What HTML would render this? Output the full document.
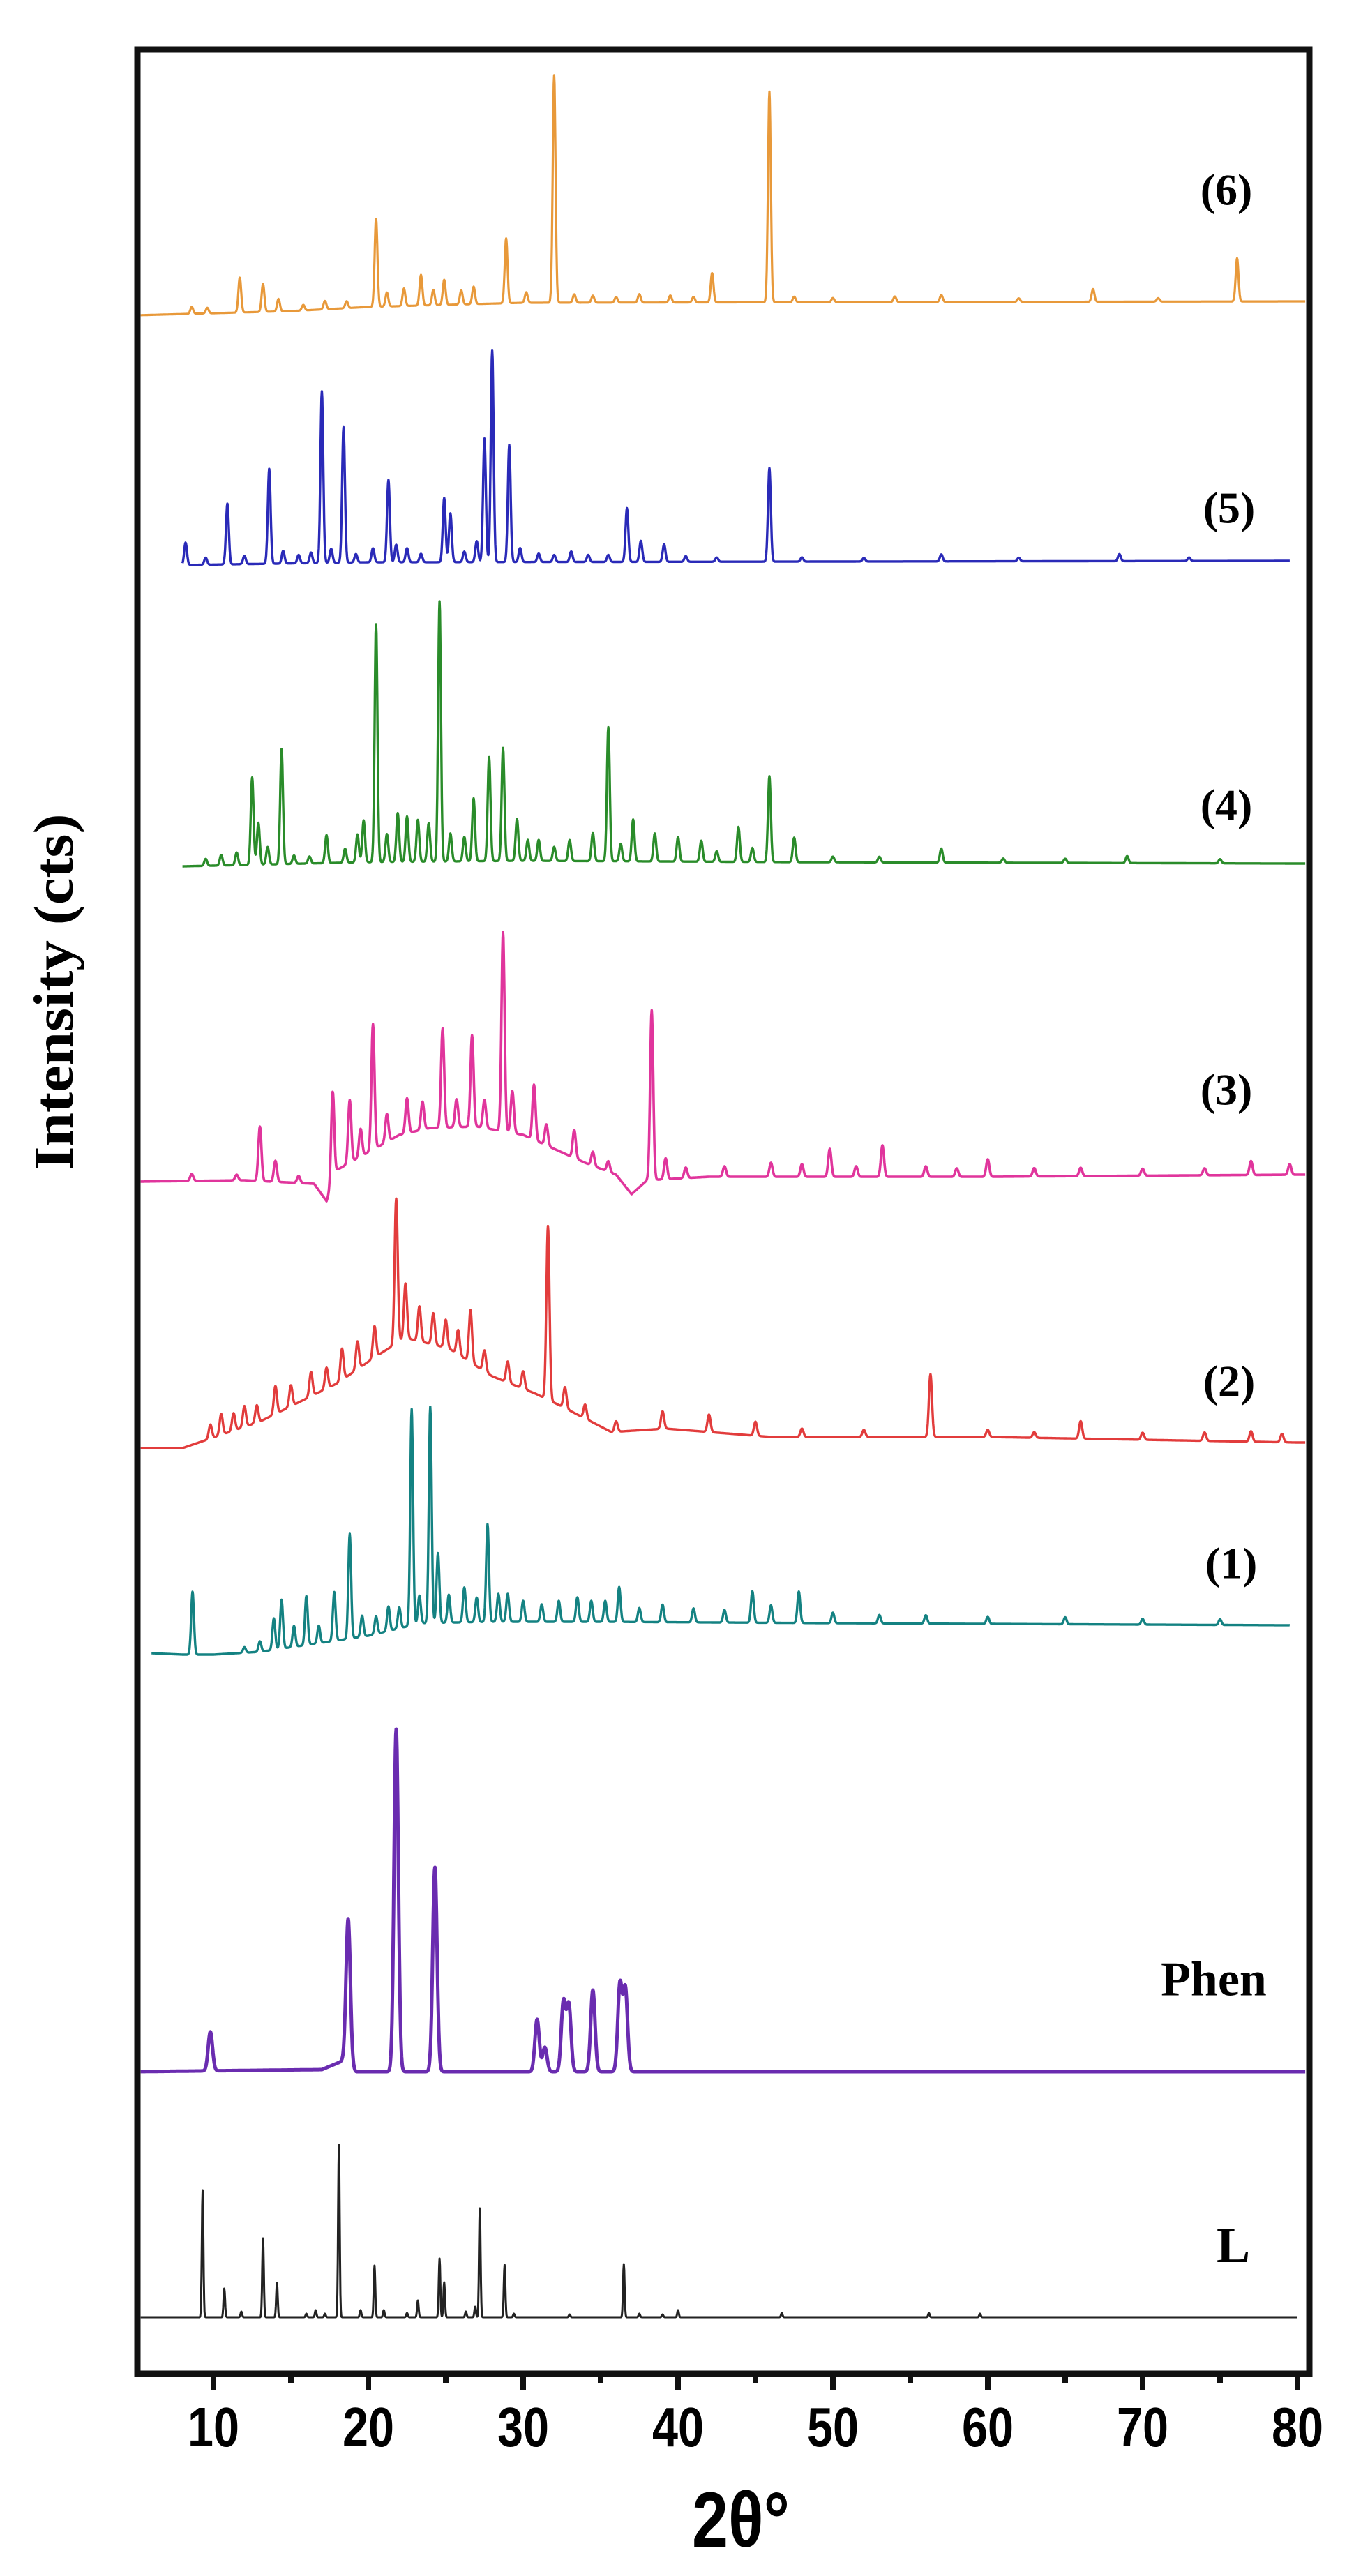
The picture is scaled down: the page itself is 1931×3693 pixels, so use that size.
<!DOCTYPE html>
<html><head><meta charset="utf-8"><style>
html,body{margin:0;padding:0;background:#fff;}
svg{display:block;}
</style></head><body>
<svg id="chart" xmlns="http://www.w3.org/2000/svg" width="1931" height="3693" viewBox="0 0 1931 3693">
<rect x="0" y="0" width="1931" height="3693" fill="#fff"/>
<g id="series"></g>
<g id="axes"></g>
<text transform="translate(104,1422) rotate(-90)" text-anchor="middle" font-family="Liberation Serif, serif" font-weight="bold" font-size="80" textLength="511" lengthAdjust="spacingAndGlyphs">Intensity (cts)</text>
<text x="1062" y="3651" text-anchor="middle" font-family="Liberation Sans, sans-serif" font-weight="bold" font-size="112" textLength="140" lengthAdjust="spacingAndGlyphs">2θ°</text>
</svg>
<script>
// ---------- data ----------
const xTicks = [10,20,30,40,50,60,70,80];
const xTickLabels = ["10","20","30","40","50","60","70","80"];
const seriesNames = ["(6)","(5)","(4)","(3)","(2)","(1)","Phen","L"];

const base6 = [[5,-18],[15,-12],[20,-6],[30,0],[80,2]];
const peaks6 = [[8.6,10],[9.6,8],[11.7,50],[13.2,40],[14.2,18],[15.8,8],[17.2,12],[18.6,10],[20.5,126],[21.2,20],[22.3,25],[23.4,44],[24.2,22],[24.9,36],[26.0,20],[26.8,25],[28.9,93],[30.2,15],[32.0,326],[33.3,12],[34.5,10],[36.0,8],[37.5,12],[39.5,10],[41.0,8],[42.2,42],[45.9,302],[47.5,8],[50.0,6],[54.0,8],[57.0,10],[62.0,5],[66.8,18],[71.0,5],[76.1,62]];

const base5 = [[8,-4],[20,0],[80,2]];
const peaks5 = [[8.2,32],[9.5,10],[10.9,87],[12.0,12],[13.6,136],[14.5,18],[15.5,12],[16.3,15],[17.0,246],[17.6,20],[18.4,194],[19.2,12],[20.3,20],[21.3,118],[21.8,25],[22.5,20],[23.4,12],[24.9,92],[25.3,70],[26.2,15],[27.0,30],[27.5,177],[28.0,303],[29.1,168],[29.8,20],[31.0,12],[32.0,10],[33.1,15],[34.2,10],[35.5,10],[36.7,77],[37.6,30],[39.1,25],[40.5,8],[42.5,6],[45.9,134],[48,6],[52,5],[57,10],[62,5],[68.5,10],[73,5]];

const base4 = [[8,-4],[20,2],[30,4],[48,2],[80,0]];
const peaks4 = [[9.5,10],[10.5,15],[11.5,18],[12.5,125],[12.9,60],[13.5,25],[14.4,165],[15.2,12],[16.2,10],[17.3,40],[18.5,20],[19.3,40],[19.7,60],[20.5,341],[21.2,40],[21.9,70],[22.5,65],[23.2,60],[23.9,55],[24.6,373],[25.3,40],[26.2,35],[26.8,90],[27.8,149],[28.7,162],[29.6,60],[30.3,30],[31.0,30],[32.0,20],[33.0,30],[34.5,40],[35.5,192],[36.3,25],[37.1,60],[38.5,40],[40.0,35],[41.5,30],[42.5,15],[43.9,50],[44.8,20],[45.9,123],[47.5,35],[50,8],[53,8],[57,20],[61,6],[65,6],[69,10],[75,6]];

const base3 = [[5,-2],[12,0],[16.5,-5],[17.3,-30],[18,15],[20,40],[22,65],[24,75],[27,77],[30,65],[32,45],[34,25],[36,8],[37,-20],[38,0],[42,5],[60,5],[80,8]];
const peaks3 = [[8.6,10],[11.5,8],[13.0,78],[14.0,30],[15.5,10],[17.7,131],[18.8,90],[19.5,40],[20.3,180],[21.2,40],[22.5,50],[23.5,40],[24.8,142],[25.7,40],[26.7,131],[27.5,40],[28.7,286],[29.3,60],[30.7,79],[31.5,30],[33.3,40],[34.5,20],[35.5,15],[38.3,243],[39.2,30],[40.5,15],[43,15],[46,20],[48,18],[49.8,40],[51.5,15],[53.2,45],[56,15],[58,12],[60,25],[63,12],[66,12],[70,10],[74,10],[77,20],[79.5,15]];

const base2 = [[5,-8],[8,-8],[13,30],[18,85],[20.6,125],[22.4,150],[25.2,135],[28,95],[30.8,70],[32.2,55],[35.7,15],[39.2,20],[46,8],[60,8],[80,0]];
const peaks2 = [[9.8,20],[10.5,30],[11.3,25],[12.0,30],[12.8,25],[14.0,40],[15.0,30],[16.3,35],[17.3,30],[18.3,45],[19.3,40],[20.4,45],[21.8,208],[22.4,78],[23.3,50],[24.2,45],[25.0,40],[25.8,35],[26.6,75],[27.5,30],[29.0,30],[30.0,25],[31.6,249],[32.7,30],[34.0,20],[36.0,15],[39.0,25],[42.0,25],[45.0,20],[48,12],[52,10],[56.3,90],[60,10],[63,8],[66,25],[70,10],[74,12],[77,15],[79,12]];

const base1 = [[6,2],[8,0],[10,0],[13,4],[17,17],[20,27],[23.4,45],[28,47],[35,47],[50,45],[80,42]];
const peaks1 = [[8.65,90],[12.0,8],[13.0,15],[13.9,45],[14.4,70],[15.2,30],[16.0,70],[16.8,25],[17.8,70],[18.8,150],[19.6,30],[20.5,25],[21.3,35],[22.0,30],[22.8,310],[23.3,40],[24.0,310],[24.5,100],[25.2,40],[26.2,50],[27.0,35],[27.7,140],[28.4,40],[29.0,40],[30.0,30],[31.2,25],[32.3,30],[33.5,35],[34.4,30],[35.3,30],[36.2,50],[37.5,20],[39.0,25],[41.0,20],[43.0,18],[44.8,45],[46.0,25],[47.8,45],[50,15],[53,12],[56,12],[60,10],[65,10],[70,8],[75,8]];

const baseP = [[5,0],[17,3],[18.3,15],[18.6,10],[19.2,0],[80,0]];
const peaksP = [[9.8,56],[18.7,211],[21.8,491],[24.3,293],[30.9,75],[31.4,35],[32.6,100],[32.95,95],[34.5,117],[36.25,125],[36.6,118]];

const baseL = [[5,0],[80,0]];
const peaksL = [[9.3,182],[10.7,41],[11.8,8],[13.2,113],[14.1,49],[16.0,5],[16.6,10],[17.2,5],[18.1,247],[19.5,10],[20.4,74],[21.0,10],[22.5,6],[23.2,24],[24.6,84],[24.9,50],[26.3,8],[26.9,15],[27.2,156],[28.8,75],[29.4,5],[33.0,4],[36.5,76],[37.5,5],[39.0,4],[40.0,10],[46.7,6],[56.2,6],[59.5,5]];

// ---------- layout ----------
const plot = {left:197, right:1877, top:71, bottom:3403};
function xScale(v){ return 306 + (v-10)*22.2; }
const seriesCfg = [
  {name:"series-6", label:"(6)", base:base6, peaks:peaks6, offset:434, color:"#E8993A", w:0.09, sw:3.2, from:5.3, to:80.5, lx:1758, ly:272},
  {name:"series-5", label:"(5)", base:base5, peaks:peaks5, offset:806, color:"#2A2AB8", w:0.09, sw:3.4, from:8, to:79.5, lx:1762, ly:728},
  {name:"series-4", label:"(4)", base:base4, peaks:peaks4, offset:1238, color:"#2A8C2A", w:0.09, sw:3.4, from:8, to:80.5, lx:1758, ly:1154},
  {name:"series-3", label:"(3)", base:base3, peaks:peaks3, offset:1692, color:"#E0359C", w:0.1, sw:3.6, from:5.3, to:80.5, lx:1758, ly:1562},
  {name:"series-2", label:"(2)", base:base2, peaks:peaks2, offset:2068, color:"#E23C3C", w:0.1, sw:3.4, from:5.3, to:80.5, lx:1762, ly:1980},
  {name:"series-1", label:"(1)", base:base1, peaks:peaks1, offset:2372, color:"#148282", w:0.09, sw:3.4, from:6, to:79.5, lx:1765, ly:2241},
  {name:"series-phen", label:"Phen", base:baseP, peaks:peaksP, offset:2970, color:"#6A2CB0", w:0.14, sw:5, from:5.3, to:80.5, lx:1740, ly:2838},
  {name:"series-l", label:"L", base:baseL, peaks:peaksL, offset:3322, color:"#222", w:0.05, sw:3, from:5.3, to:80, lx:1768, ly:3219}
];
function yScale(cfg, intensity){ return cfg.offset - intensity; }
function baseAt(b, v){
  if (v<=b[0][0]) return b[0][1];
  for (let i=1;i<b.length;i++){ if (v<=b[i][0]){ const t=(v-b[i-1][0])/(b[i][0]-b[i-1][0]); return b[i-1][1]+t*(b[i][1]-b[i-1][1]); } }
  return b[b.length-1][1];
}
const NS="http://www.w3.org/2000/svg";
const sg=document.getElementById('series');
seriesCfg.forEach(cfg=>{
  let d="";
  for (let v=cfg.from; v<=cfg.to+1e-9; v+=0.025){
    let I=baseAt(cfg.base,v);
    cfg.peaks.forEach(p=>{ const z=(v-p[0])/cfg.w; if (Math.abs(z)<6) I+=p[1]*Math.exp(-0.5*z*z); });
    d += (d?"L":"M")+xScale(v).toFixed(1)+","+yScale(cfg,I).toFixed(1);
  }
  const path=document.createElementNS(NS,'path');
  path.setAttribute('d',d);
  path.setAttribute('fill','none');
  path.setAttribute('stroke',cfg.color);
  path.setAttribute('stroke-width',cfg.sw);
  path.setAttribute('stroke-linejoin','round');
  
  
  sg.appendChild(path);
  const t=document.createElementNS(NS,'text');
  t.setAttribute('x',cfg.lx); t.setAttribute('y',cfg.ly);
  t.setAttribute('text-anchor','middle'); t.setAttribute('dominant-baseline','central');
  t.setAttribute('font-family','Liberation Serif, serif'); t.setAttribute('font-weight','bold');
  t.setAttribute('font-size', cfg.label==="Phen"?70:(cfg.label==="L"?72:64));
  t.textContent=cfg.label;
  
  
  sg.appendChild(t);
});
const ag=document.getElementById('axes');
const frame=document.createElementNS(NS,'rect');
frame.setAttribute('x',plot.left); frame.setAttribute('y',plot.top);
frame.setAttribute('width',plot.right-plot.left); frame.setAttribute('height',plot.bottom-plot.top);
frame.setAttribute('fill','none'); frame.setAttribute('stroke','#111'); frame.setAttribute('stroke-width','9');


ag.appendChild(frame);
for (let v=10; v<=80; v+=5){
  const major = v%10===0;
  const l=document.createElementNS(NS,'line');
  l.setAttribute('x1',xScale(v)); l.setAttribute('x2',xScale(v));
  l.setAttribute('y1',plot.bottom); l.setAttribute('y2',plot.bottom+(major?24:14));
  l.setAttribute('stroke','#111'); l.setAttribute('stroke-width','8');
  
  
  ag.appendChild(l);
}
xTicks.forEach((v,i)=>{
  const t=document.createElementNS(NS,'text');
  t.setAttribute('x',xScale(v)); t.setAttribute('y',3507);
  t.setAttribute('text-anchor','middle');
  t.setAttribute('font-family','Liberation Sans, sans-serif'); t.setAttribute('font-weight','bold');
  t.setAttribute('font-size','80'); t.setAttribute('textLength','74'); t.setAttribute('lengthAdjust','spacingAndGlyphs');
  t.textContent=xTickLabels[i];
  
  
  ag.appendChild(t);
});
</script>
</body></html>
